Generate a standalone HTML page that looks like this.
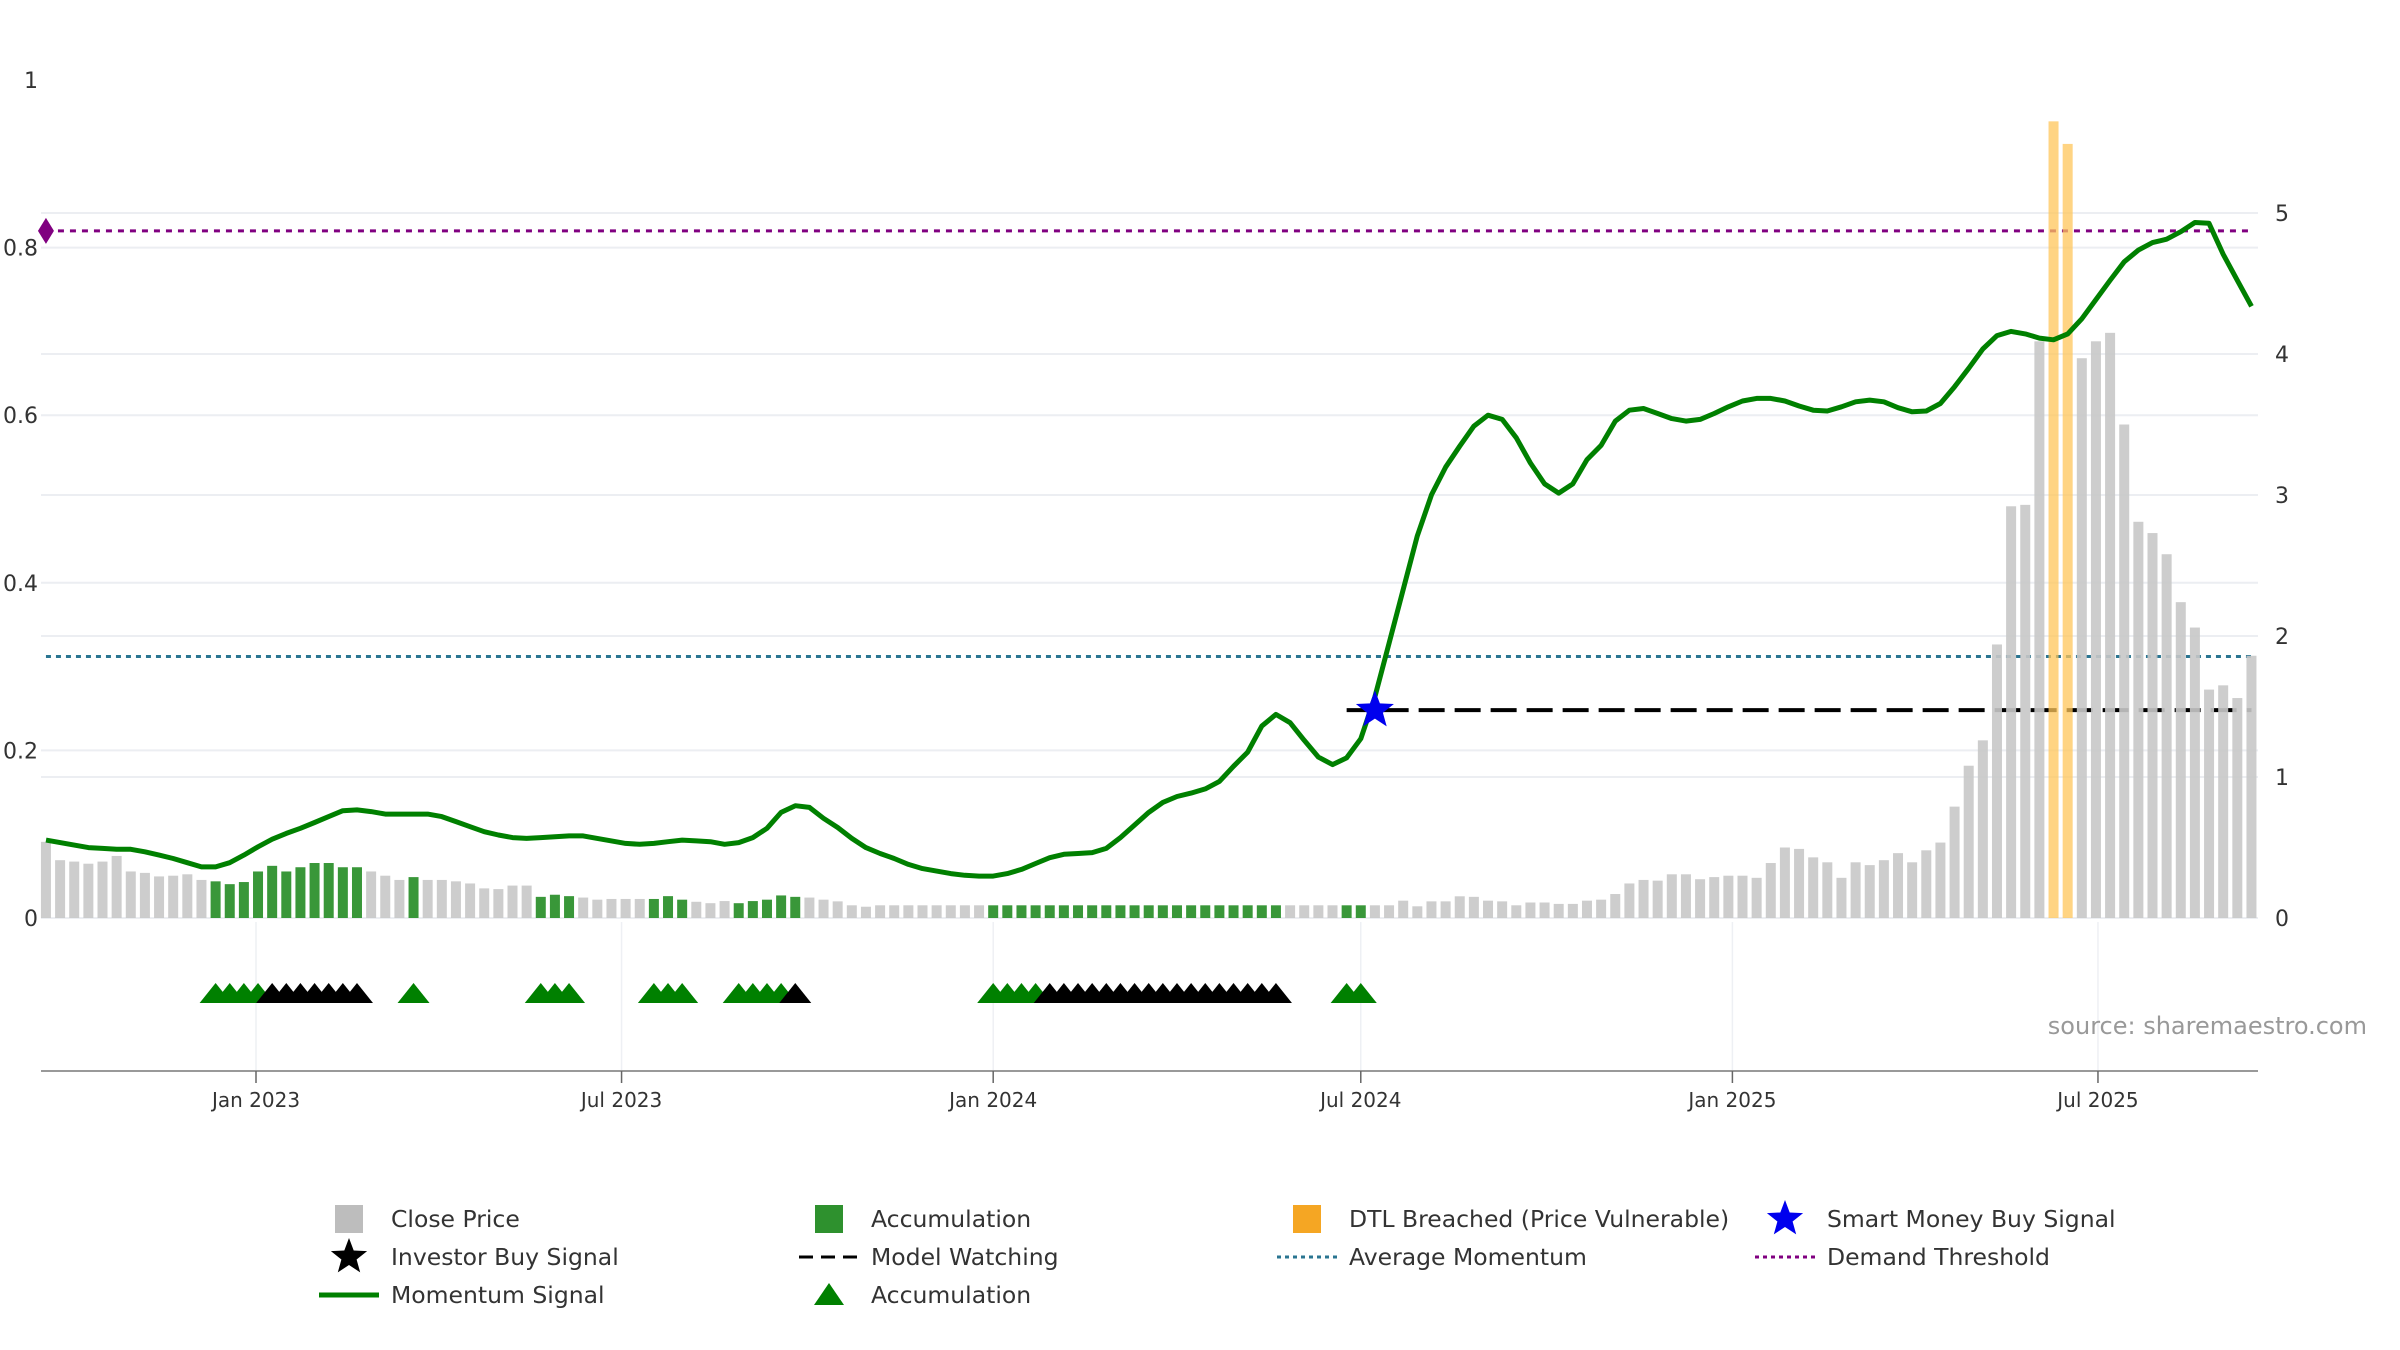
<!DOCTYPE html>
<html><head><meta charset="utf-8"><style>
html,body{margin:0;padding:0;background:#fff;}
svg{display:block;font-family:"DejaVu Sans","Liberation Sans",sans-serif;}
</style></head><body>
<svg id="chart" width="2400" height="1350" viewBox="0 0 2400 1350" xmlns="http://www.w3.org/2000/svg">
<g id="grid"></g>
<g id="hlines"></g>
<g id="bars"></g>
<g id="lines"></g>
<g id="marks"></g>
<g id="axes"></g>
<text x="2367" y="1034" text-anchor="end" font-size="24" fill="#999">source: sharemaestro.com</text>
<g id="legend" font-size="23.5" fill="#333"></g>
</svg>
<script>
const startDate = "2022-09-19";
const prices = [0.54,0.41,0.40,0.385,0.40,0.44,0.33,0.32,0.295,0.30,0.31,0.27,
0.26,0.24,0.255,0.33,0.37,0.33,0.36,0.39,0.39,0.36,0.36,
0.33,0.30,0.27,0.29,0.27,0.27,0.26,0.245,0.21,0.205,0.23,0.23,
0.15,0.165,0.155,0.145,0.13,0.135,0.135,0.135,0.135,0.155,0.13,
0.115,0.105,0.12,0.105,0.12,0.13,0.16,0.15,0.145,0.13,
0.118,0.09,0.08,0.09,0.09,0.09,0.09,0.09,0.09,0.09,0.09,
0.09,0.09,0.09,0.09,0.09,0.09,0.09,0.09,0.09,0.09,0.09,0.09,0.09,0.09,0.09,0.09,0.09,0.09,0.09,0.09,0.09,
0.09,0.09,0.09,0.09,0.09,0.09,
0.09,0.09,0.123,0.083,0.118,0.118,0.154,0.15,0.123,0.118,0.09,0.11,0.11,0.1,0.1,0.123,
0.13,0.17,0.245,0.27,0.265,0.31,0.31,0.275,0.29,0.30,0.30,0.285,0.39,0.50,0.49,0.43,0.395,0.285,0.395,0.375,0.41,0.46,0.395,0.48,0.535,0.79,1.08,1.26,1.94,2.92,2.93,4.09,5.65,5.49,3.97,4.09,4.15,3.50,2.81,2.73,2.58,2.24,2.06,1.62,1.65,1.56,1.86];
const momentum = [0.093,0.090,0.087,0.084,0.083,0.082,0.082,0.079,0.075,0.071,0.066,0.061,0.061,0.066,0.075,0.085,0.094,0.101,0.107,0.114,0.121,0.128,0.129,0.127,0.124,0.124,0.124,0.124,0.121,0.115,0.109,0.103,0.099,0.096,0.095,0.096,0.097,0.098,0.098,0.095,0.092,0.089,0.088,0.089,0.091,0.093,0.092,0.091,0.088,0.090,0.096,0.107,0.126,0.134,0.132,0.119,
0.108,0.095,0.084,0.077,0.071,0.064,0.059,0.056,0.053,0.051,0.050,0.050,0.053,0.058,0.065,0.072,0.076,0.077,0.078,0.083,0.096,0.111,0.126,0.138,0.145,0.149,0.154,0.163,0.181,0.198,0.229,0.243,0.233,0.212,0.192,0.183,0.191,0.214,0.264,
0.328,0.392,0.456,0.505,0.538,0.563,0.587,0.600,0.595,0.573,0.543,0.518,0.507,0.518,0.547,
0.564,0.593,0.606,0.608,0.602,0.596,0.593,0.595,0.602,0.610,0.617,0.620,0.620,0.617,0.611,0.606,0.605,0.610,0.616,0.618,0.616,0.609,0.604,0.605,0.614,0.634,0.656,0.679,0.695,0.700,0.697,0.692,0.690,0.697,0.715,0.738,0.761,0.783,0.797,0.806,0.810,0.819,0.830,0.829,0.792,0.761,0.730];
const accumBars = [13,14,15,16,17,18,19,20,21,22,23,27,36,37,38,44,45,46,50,51,52,53,54,68,69,70,71,72,73,74,75,76,77,78,79,80,81,82,83,84,85,86,87,88,93,94];
const dtlBars = [143,144];
const accumTriangles = [13,14,15,16,27,36,37,38,44,45,46,50,51,52,53,68,69,70,71,93,94];
const investorTriangles = [17,18,19,20,21,22,23,54,72,73,74,75,76,77,78,79,80,81,82,83,84,85,86,87,88];
const demandThreshold = 0.82;
const avgMomentum = 0.312;
const modelWatchLevel = 0.248;
const modelWatchStart = 93;
const smartMoneyBar = 95;
const leftTicks = [0,0.2,0.4,0.6,0.8,1];
const leftTickLabels = ["0","0.2","0.4","0.6","0.8","1"];
const rightTicks = [0,1,2,3,4,5];
const xTickDates = ["2023-01-01","2023-07-01","2024-01-01","2024-07-01","2025-01-01","2025-07-01"];
const xTickLabels = ["Jan 2023","Jul 2023","Jan 2024","Jul 2024","Jan 2025","Jul 2025"];

const NS="http://www.w3.org/2000/svg";
const X0=41, X1=2258, BASE=918, AXY=1071;
const DAY=86400000, ref=Date.parse("2023-01-01"), PXD=2.0197;
function xDate(s){return 256+(Date.parse(s)-ref)/DAY*PXD;}
function xIdx(i){return 256+(Date.parse(startDate)+(i-1)*7*DAY-ref)/DAY*PXD;}
function yL(v){return BASE-v*838;}
function yR(v){return BASE-v*141;}
function mk(tag,attrs,parent){const e=document.createElementNS(NS,tag);for(const k in attrs)e.setAttribute(k,attrs[k]);parent.appendChild(e);return e;}
const G=id=>document.getElementById(id);

// grid
leftTicks.forEach(t=>{if(t>=1)return;const l=mk('line',{x1:X0,x2:X1,y1:yL(t),y2:yL(t),stroke:'#eceef2','stroke-width':2},G('grid'));

});
rightTicks.forEach(t=>{const l=mk('line',{x1:X0,x2:X1,y1:yR(t),y2:yR(t),stroke:'#eceef2','stroke-width':2},G('grid'));

});
xTickDates.forEach(d=>{const l=mk('line',{x1:xDate(d),x2:xDate(d),y1:BASE+4,y2:AXY,stroke:'#eef0f4','stroke-width':1.5},G('grid'));

});

// reference lines
let h=mk('line',{x1:xIdx(1),x2:xIdx(prices.length),y1:yL(demandThreshold),y2:yL(demandThreshold),stroke:'#800080','stroke-width':3,'stroke-dasharray':'6,6'},G('hlines'));


h=mk('line',{x1:xIdx(1),x2:xIdx(prices.length),y1:yL(avgMomentum),y2:yL(avgMomentum),stroke:'#2a7591','stroke-width':3,'stroke-dasharray':'5,5'},G('hlines'));


h=mk('line',{x1:xIdx(modelWatchStart),x2:xIdx(prices.length),y1:yL(modelWatchLevel),y2:yL(modelWatchLevel),stroke:'#000','stroke-width':4,'stroke-dasharray':'26,10'},G('hlines'));



// bars
prices.forEach((p,k)=>{const i=k+1;let c='#c8c8c8',op=0.9;
 if(accumBars.includes(i)){c='#2e912e';op=0.95;}
 if(dtlBars.includes(i)){c='#ffc65a';op=0.75;}
 const b=mk('rect',{x:xIdx(i)-5,y:yR(p),width:10,height:BASE-yR(p),fill:c,opacity:op},G('bars'));
 
 });

// momentum line
const pts=momentum.map((v,k)=>xIdx(k+1).toFixed(1)+','+yL(v).toFixed(1)).join(' ');
const pl=mk('polyline',{points:pts,fill:'none',stroke:'#008000','stroke-width':5,'stroke-linejoin':'round'},G('lines'));



// diamond
const dx=xIdx(1),dy=yL(demandThreshold);
const dm=mk('polygon',{points:`${dx-8},${dy} ${dx},${dy-13} ${dx+8},${dy} ${dx},${dy+13}`,fill:'#800080'},G('marks'));



function star(cx,cy,r,fill,parent){let p=[];for(let j=0;j<10;j++){const a=-Math.PI/2+j*Math.PI/5;const rr=j%2?r*0.42:r;p.push((cx+rr*Math.cos(a)).toFixed(1)+','+(cy+rr*Math.sin(a)).toFixed(1));}
 return mk('polygon',{points:p.join(' '),fill:fill},parent);}
const sm=star(xIdx(smartMoneyBar),yL(modelWatchLevel),20,'#0000ee',G('marks'));



function tri(cx,fill){return mk('polygon',{points:`${cx-16},1003 ${cx},983 ${cx+16},1003`,fill:fill},G('marks'));}
accumTriangles.forEach(i=>{const t=tri(xIdx(i),'#008000');
 
 });
investorTriangles.forEach(i=>{const t=tri(xIdx(i),'#000');
 
 });

// axes
const ax=mk('line',{x1:X0,x2:X1,y1:AXY,y2:AXY,stroke:'#999','stroke-width':2},G('axes'));


xTickDates.forEach((d,k)=>{const x=xDate(d);
 const t=mk('line',{x1:x,x2:x,y1:AXY,y2:AXY+12,stroke:'#666','stroke-width':1.5},G('axes'));
 
 
 const tx=mk('text',{x:x,y:1107,'text-anchor':'middle','font-size':20,fill:'#333'},G('axes'));
 tx.textContent=xTickLabels[k];
 
 });
leftTicks.forEach((t,k)=>{const tx=mk('text',{x:38,y:yL(t)+8,'text-anchor':'end','font-size':22,fill:'#333'},G('axes'));
 tx.textContent=leftTickLabels[k];
 
 });
rightTicks.forEach(t=>{const tx=mk('text',{x:2275,y:yR(t)+8,'font-size':22,fill:'#333'},G('axes'));
 tx.textContent=String(t);
 
 });

// legend
const L=G('legend');
const items=[
 [349,1227,'Close Price','sq','#bdbdbd'],[829,1227,'Accumulation','sq','#2e912e'],[1307,1227,'DTL Breached (Price Vulnerable)','sq','#f5a623'],[1785,1227,'Smart Money Buy Signal','star','#0000ee'],
 [349,1265,'Investor Buy Signal','star','#000'],[829,1265,'Model Watching','dash','#000'],[1307,1265,'Average Momentum','dot','#2a7591'],[1785,1265,'Demand Threshold','dot','#800080'],
 [349,1303,'Momentum Signal','line','#008000'],[829,1303,'Accumulation','tri','#008000']];
items.forEach(it=>{const [x,y,label,kind,c]=it;const g=mk('g',{},L);
 
 
 const cy=y-8;
 if(kind==='sq')mk('rect',{x:x-14,y:cy-14,width:28,height:28,fill:c},g);
 if(kind==='star')star(x,cy,19,c,g);
 if(kind==='dash')mk('line',{x1:x-30,x2:x+30,y1:cy,y2:cy,stroke:c,'stroke-width':3,'stroke-dasharray':'14,8'},g);
 if(kind==='dot')mk('line',{x1:x-30,x2:x+30,y1:cy,y2:cy,stroke:c,'stroke-width':3,'stroke-dasharray':'4,4'},g);
 if(kind==='line')mk('line',{x1:x-30,x2:x+30,y1:cy,y2:cy,stroke:c,'stroke-width':5},g);
 if(kind==='tri')mk('polygon',{points:`${x-15},${cy+10} ${x},${cy-12} ${x+15},${cy+10}`,fill:c},g);
 const t=mk('text',{x:x+42,y:y,fill:'#333'},g);t.textContent=label;});
</script>
</body></html>
